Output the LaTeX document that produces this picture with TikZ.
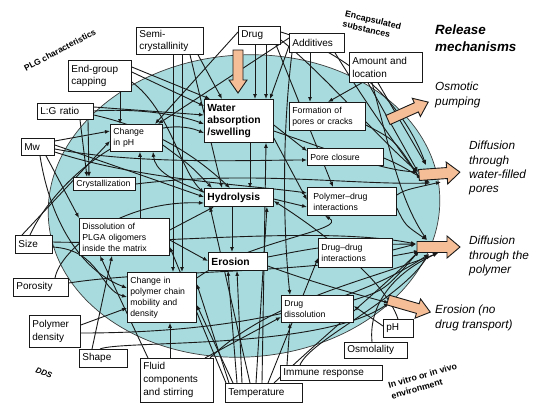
\documentclass[tikz,border=0pt]{standalone}
\usepackage{fontspec}
\setmainfont{Liberation Sans}
\usetikzlibrary{arrows.meta}
\pgfdeclarelayer{ell}\pgfdeclarelayer{lines}
\pgfsetlayers{ell,lines,main}
\definecolor{teal1}{RGB}{168,219,221}
\definecolor{peach}{RGB}{246,190,150}
\definecolor{ink}{RGB}{25,25,25}
\newcommand\bx[7]{\pgfmathsetmacro\boxw{#4-#2-6}\pgfmathsetmacro\boxh{#5-#3}\node[#6, text width=\boxw pt, minimum height=\boxh pt] (#1) at (#2,#3) {#7};}
\newcommand\bigarr[6]{\begin{scope}[shift={(#1,#2)}, rotate=#3]
\filldraw[bigarrow] (0,-#6) -- (#4-13,-#6) -- (#4-13,-#5) -- (#4,0) -- (#4-13,#5) -- (#4-13,#6) -- (0,#6) -- cycle;
\end{scope}}
\tikzset{
 box/.style={draw=ink, line width=0.8pt, fill=white, anchor=north west, inner xsep=3pt, inner ysep=0pt, align=left},
 src/.style={box, font=\fontsize{10}{12.5}\selectfont},
 mid/.style={box, font=\fontsize{8.7}{11}\selectfont},
 key/.style={box, font=\bfseries\fontsize{10.3}{12.3}\selectfont},
 con/.style={draw=ink, line width=0.9pt, -{Latex[length=5pt,width=4pt]}},
 bigarrow/.style={draw=ink, line width=0.9pt, fill=peach, line join=miter},
 mech/.style={font=\itshape\fontsize{11.8}{14.3}\selectfont, align=left, anchor=north west, inner sep=0pt},
 region/.style={font=\bfseries\fontsize{8.8}{10.5}\selectfont, align=left, inner sep=0pt}
}
\begin{document}
\begin{tikzpicture}[x=1pt,y=-1pt]
\useasboundingbox (0,0) rectangle (546,413);
\begin{pgfonlayer}{ell}
\fill[white] (0,0) rectangle (546,413);
\draw[draw=ink!85, line width=0.7pt, fill=teal1, rotate around={4:(244,206)}] (244,206) ellipse [x radius=196, y radius=151];
\end{pgfonlayer}
% boxes
\bx{semi}{136}{27}{203}{54}{src}{Semi-\\crystallinity}
\bx{drug}{238}{26}{280}{44}{src}{Drug}
\bx{add}{289}{33}{344}{52}{src}{Additives}
\bx{amount}{349}{52}{422}{82}{src}{Amount and\\location}
\bx{endg}{68}{60}{131}{91}{src}{End-group\\capping}
\bx{lg}{37}{103}{93}{119}{src}{L:G ratio}
\bx{mw}{21}{138}{54}{155}{src}{Mw}
\bx{size}{15}{235}{52}{253}{src}{Size}
\bx{poro}{13}{278}{68}{296}{src}{Porosity}
\bx{pdens}{29}{315}{80}{347}{src}{Polymer\\density}
\bx{shape}{79}{349}{127}{367}{src}{Shape}
\bx{fluid}{140}{358}{213}{402}{src, font=\fontsize{10}{13}\selectfont}{Fluid\\components\\and stirring}
\bx{temp}{225}{383}{302}{402}{src}{Temperature}
\bx{immune}{280}{365}{382}{380}{src}{Immune response}
\bx{osmo}{344}{342}{407}{358}{src}{Osmolality}
\bx{ph}{383}{319}{413}{337}{src}{pH}
\bx{chph}{110}{124}{162}{151}{mid}{Change\\in pH}
\bx{water}{204}{99}{273}{142}{key}{Water\\absorption\\/swelling}
\bx{form}{289}{102}{365}{130}{mid}{Formation of\\pores or cracks}
\bx{poreclos}{307}{148}{383}{165}{mid}{Pore closure}
\bx{cryst}{73}{177}{135}{190}{mid}{Crystallization}
\bx{hydro}{204}{188}{273}{206}{key}{Hydrolysis}
\bx{polydrug}{307}{187}{390}{215}{mid, inner xsep=6pt}{Polymer--drug\\interactions}
\bx{dissol}{79}{218}{169}{255}{mid}{Dissolution of\\PLGA oligomers\\inside the matrix}
\bx{erosion}{208}{252}{267}{270}{key}{Erosion}
\bx{drugdrug}{318}{238}{392}{267}{mid}{Drug--drug\\interactions}
\bx{chain}{127}{272}{196}{322}{mid}{Change in\\polymer chain\\mobility and\\density}
\bx{drugdiss}{281}{295}{353}{322}{mid}{Drug\\dissolution}
% arrow tail targets
\coordinate (dw1) at (418,172); \coordinate (dw2) at (421,180); \coordinate (dw3) at (430,183);
\coordinate (dw4) at (441,182); \coordinate (dw5) at (426,165);
\coordinate (dp1) at (416,244); \coordinate (dp2) at (419,251); \coordinate (dp3) at (429,254);
\coordinate (dp4) at (438,253); \coordinate (dp5) at (427,240);
\coordinate (er1) at (389,303);
\begin{pgfonlayer}{lines}
% Semi
\draw[con] (semi.south -| 173,0) -- (chain.north -| 173,0);
\draw[con] (semi.south -| 182,0) -- (chain.north -| 182,0);
\draw[con] (semi.south -| 198,0) -- (water.north -| 222,0);
\draw[con] (semi.south -| 190,0) -- (hydro.north -| 222,0);
% Drug
\draw[con] (drug.south -| 255,0) -- (water.north -| 255,0);
\draw[con] (drug.south -| 266,0) -- (water.north -| 266,0);
\draw[con] (drug.west |- 0,32) -- (chph.north -| 155,0);
\draw[con] (drug.east |- 0,32) .. controls (340,50) and (400,95) .. (dw5);
\draw[con] (drug.east |- 0,40) .. controls (320,70) and (380,140) .. (dw1);
\draw[con] (drug.south -| 276,0) -- (polydrug.north -| 333,0);
% Additives
\draw[con] (add.south -| 310,0) -- (form.north -| 310,0);
\draw[con] (add.west |- 0,46) -- (water.north -| 270,0);
\draw[con] (add.west |- 0,38) -- (chph.north -| 158,0);
\draw[con] (add.south -| 292,0) .. controls (280,150) and (285,250) .. (drugdiss.north -| 290,0);
\draw[con] (add.south -| 335,0) .. controls (370,110) and (400,150) .. (dw2);
% Amount
\draw[con] (amount.south -| 362,0) -- (form.north -| 328,0);
\draw[con] (amount.south -| 368,0) -- (dw1);
\draw[con] (amount.south -| 378,0) -- (dw5);
\draw[con] (amount.south -| 372,0) .. controls (390,150) and (400,200) .. (dp5);
% End group
\draw[con] (endg.south -| 120,0) -- (chph.north -| 120,0);
\draw[con] (endg.east |- 0,67) -- (water.north -| 210,0);
\draw[con] (endg.east |- 0,72) -- (water.west |- 0,106);
\draw[con] (endg.east |- 0,82) .. controls (170,110) and (180,170) .. (hydro.west |- 0,193);
% LG
\draw[con] (lg.south -| 80,0) -- (cryst.north -| 87,0);
\draw[con] (lg.south -| 88,0) -- (cryst.north -| 89,0);
\draw[con] (lg.east |- 0,107) -- (water.west |- 0,115);
\draw[con] (lg.east |- 0,111) .. controls (140,108) and (180,115) .. (water.west |- 0,124);
\draw[con] (lg.east |- 0,115) .. controls (160,130) and (200,160) .. (hydro.north -| 230,0);
% Mw
\draw[con] (mw.east |- 0,141) -- (chph.west |- 0,131);
\draw[con] (mw.east |- 0,145) -- (hydro.west |- 0,197);
\draw[con] (mw.east |- 0,149) .. controls (140,165) and (250,160) .. (poreclos.west |- 0,160);
\draw[con] (mw.east |- 0,152) .. controls (140,180) and (250,185) .. (polydrug.west |- 0,193);
\draw[con] (mw.south -| 46,0) -- (dissol.north west);
\draw[con] (mw.south -| 40,0) .. controls (50,220) and (80,270) .. (chain.west |- 0,288);
% Size
\draw[con] (size.north -| 22,0) -- (chph.west |- 0,141);
\draw[con] (size.north -| 30,0) .. controls (60,170) and (150,110) .. (water.west |- 0,133);
\draw[con] (size.east |- 0,247) .. controls (100,250) and (100,290) .. (chain.west |- 0,297);
\draw[con] (size.east |- 0,242) .. controls (150,245) and (320,225) .. (dp1);
% Porosity
\draw[con] (poro.north -| 55,0) .. controls (60,250) and (120,200) .. (hydro.west |- 0,203);
\draw[con] (poro.east |- 0,283) .. controls (150,270) and (300,275) .. (dp2);
% Polymer density
\draw[con] (pdens.east |- 0,325) -- (chain.west |- 0,308);
\draw[con] (pdens.east |- 0,333) .. controls (250,333) and (360,300) .. (dp3);
% Shape
\draw[con] (shape.north -| 92,0) -- (dissol.south -| 112,0);
\draw[con] (shape.north -| 100,0) .. controls (120,340) and (320,350) .. (er1);
% Fluid
\draw[con] (fluid.north -| 170,0) -- (chain.south -| 170,0);
\draw[con] (fluid.north -| 148,0) -- (dissol.south -| 100,0);
\draw[con] (fluid.north -| 205,0) -- (drugdiss.west |- 0,317);
\draw[con] (fluid.north -| 210,0) .. controls (270,300) and (370,280) .. (dp4);
% Temperature
\draw[con] (temp.north -| 237,0) -- (erosion.south -| 228,0);
\draw[con] (temp.north -| 242,0) -- (erosion.south -| 237,0);
\draw[con] (temp.north -| 229,0) -- (chain.east |- 0,284);
\draw[con] (temp.north -| 233,0) -- (chain.east |- 0,305);
\draw[con] (temp.north -| 250,0) -- (hydro.south -| 210,0);
\draw[con] (temp.north -| 256,0) -- (hydro.south -| 267,0);
\draw[con] (temp.north -| 262,0) -- (water.south -| 266,0);
\draw[con] (temp.north -| 268,0) -- (drugdrug.west |- 0,258);
\draw[con] (temp.north -| 274,0) .. controls (330,330) and (380,290) .. (dp2);
\draw[con] (temp.north -| 226,0) -- (dissol.east |- 0,247);
% Immune, pH, osmolality
\draw[con] (immune.north -| 287,0) -- (drugdiss.south -| 290,0);
\draw[con] (immune.north -| 300,0) .. controls (310,340) and (400,300) .. (dp3);
\draw[con] (ph.west |- 0,326) -- (drugdiss.east |- 0,306);
\draw[con] (ph.north -| 398,0) .. controls (385,280) and (320,230) .. (hydro.east |- 0,201);
\draw[con] (osmo.north -| 372,0) .. controls (368,300) and (400,270) .. (dp4);
% intermediate effects
\draw[con] (water.south -| 250,0) -- (hydro.north -| 250,0);
\draw[con] (water.east |- 0,125) -- (poreclos.west |- 0,151);
\draw[con] (water.east |- 0,131) .. controls (330,150) and (380,170) .. (dw1);
\draw[con] (water.east |- 0,138) -- (polydrug.west |- 0,200);
\draw[con] (dissol.north -| 140,0) -- (chph.south -| 140,0);
\draw[con] (hydro.west |- 0,192) .. controls (170,180) and (155,170) .. (chph.south -| 153,0);
\draw[con] (hydro.south -| 232,0) -- (erosion.north -| 232,0);
\draw[con] (hydro.east |- 0,199) -- (polydrug.west |- 0,207);
\draw[con] (erosion.east |- 0,266) .. controls (320,285) and (360,295) .. (er1);
\draw[con] (erosion.east |- 0,257) .. controls (330,245) .. (dp1);
\draw[con] (form.east |- 0,125) .. controls (395,140) .. (dw2);
\draw[con] (poreclos.east |- 0,158) .. controls (400,165) .. (dw3);
\draw[con] (polydrug.east |- 0,195) .. controls (405,190) .. (dw4);
\draw[con] (polydrug.east |- 0,208) .. controls (405,225) .. (dp5);
\draw[con] (drugdrug.east |- 0,250) -- (dp1);
\draw[con] (drugdiss.east |- 0,300) .. controls (385,290) .. (dp2);
\draw[con] (chain.east |- 0,278) .. controls (250,240) and (350,230) .. (polydrug.south -| 325,0);
\draw[con] (cryst.east |- 0,184) .. controls (250,170) and (350,185) .. (dw3);
\draw[con] (chph.east |- 0,145) .. controls (190,165) .. (hydro.north -| 212,0);
\draw[con] (dissol.east |- 0,230) -- (hydro.south -| 214,0);
\draw[con] (dissol.east |- 0,240) -- (erosion.west |- 0,261);
\end{pgfonlayer}
% big arrows
\bigarr{238}{50}{-90}{43}{9}{5}
\bigarr{388}{120}{24}{44}{10}{5}
\bigarr{419}{175}{4}{41}{11}{5.5}
\bigarr{417}{247}{0}{43}{11}{5.5}
\bigarr{388}{300}{-16}{44}{10}{5}
% texts
\node[mech, font=\bfseries\itshape\fontsize{13.4}{17}\selectfont] (relmech) at (435,25) {Release\\mechanisms};
\node[mech] (osmtxt) at (435,82) {Osmotic\\pumping};
\node[mech] (dwtxt) at (469,141) {Diffusion\\through\\water-filled\\pores};
\node[mech] (dptxt) at (469,236) {Diffusion\\through the\\polymer};
\node[mech] (ertxt) at (435,305) {Erosion (no\\drug transport)};
\node[region, font=\bfseries\fontsize{8.5}{10}\selectfont, rotate=28] (plg) at (60,50) {PLG characteristics};
\node[region, rotate=-13] (encap) at (372,25) {Encapsulated\\substances};
\node[region, font=\bfseries\itshape\fontsize{8}{9}\selectfont, rotate=-20] (dds) at (44,373) {DDS};
\node[region, font=\bfseries\fontsize{8.8}{11}\selectfont, rotate=16] (envir) at (424,381) {In vitro or in vivo\\environment};
\end{tikzpicture}
\end{document}
